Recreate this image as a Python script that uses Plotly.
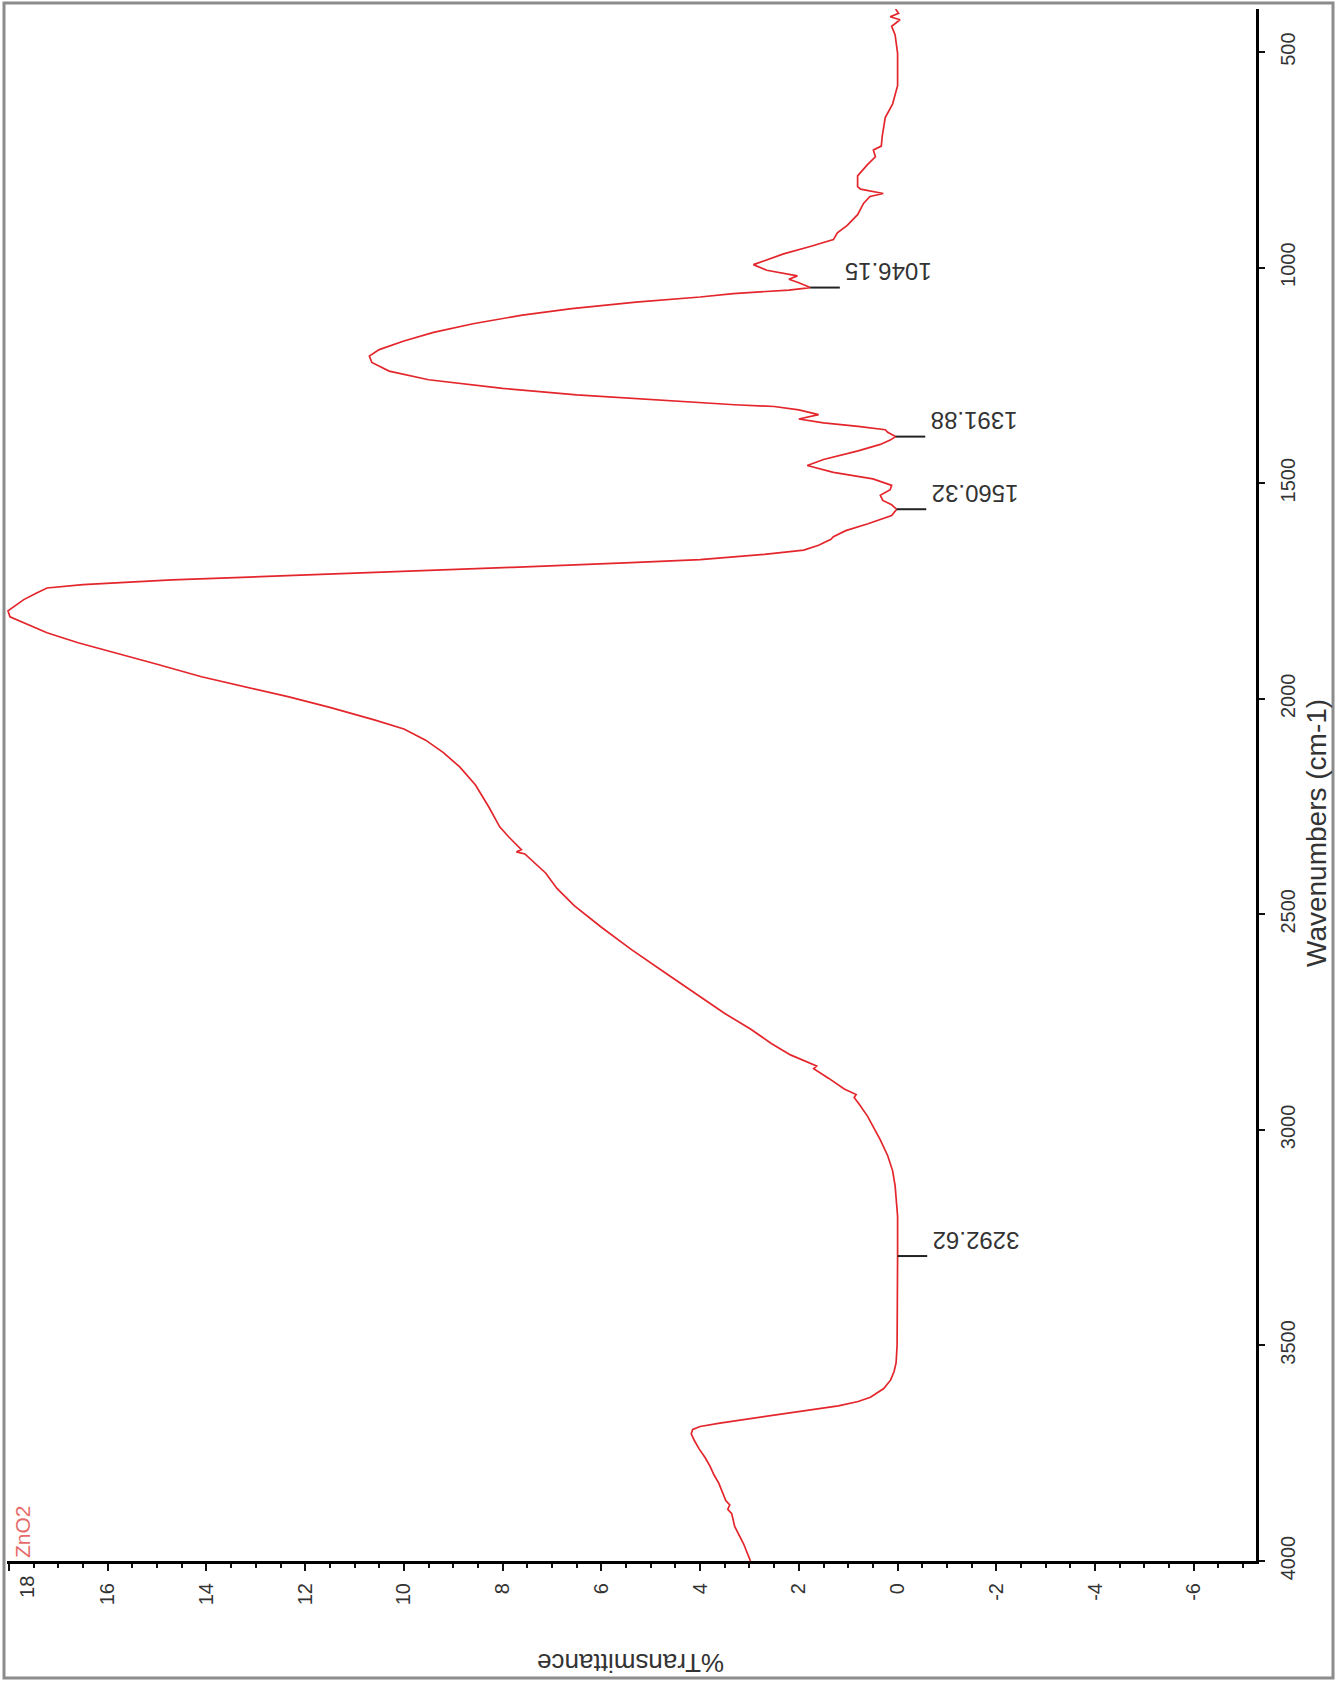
import plotly.graph_objects as go

# IR spectrum of ZnO2, drawn in the rotated instrument layout:
# %Transmittance runs horizontally (18 at left), wavenumber vertically (500 at top).
wavenumber = [
    4000, 3960, 3920, 3890, 3880, 3870, 3860, 3840, 3820, 3800, 3780, 3760, 3740,
    3720, 3705, 3695, 3688, 3680, 3670, 3660, 3650, 3640, 3630, 3620, 3600, 3580,
    3560, 3540, 3500, 3400, 3292.62, 3200, 3170, 3130, 3095, 3060, 3023, 2990,
    2968, 2940, 2925, 2918, 2905, 2880, 2858, 2852, 2840, 2826, 2800, 2766, 2730,
    2691, 2640, 2582, 2530, 2480, 2440, 2404, 2370, 2360, 2355, 2350, 2320, 2297,
    2251, 2200, 2158, 2125, 2096, 2070, 2049, 2020, 1995, 1970, 1949, 1920, 1894,
    1870, 1847, 1825, 1810, 1796, 1786, 1770, 1755, 1743, 1735, 1724, 1715, 1705,
    1695, 1684, 1677, 1665, 1655, 1644, 1630, 1624, 1610, 1594, 1575, 1560.32,
    1550, 1540, 1528, 1515, 1505, 1490, 1475, 1459, 1445, 1425, 1410, 1400,
    1391.88, 1382, 1376, 1368, 1360, 1351, 1341, 1330, 1322, 1318, 1312, 1305,
    1295, 1280, 1260, 1240, 1220, 1205, 1190, 1170, 1150, 1130, 1110, 1095, 1080,
    1068, 1060, 1052, 1046.15, 1035, 1027, 1019, 1006, 993, 980, 968, 951, 935,
    919, 902, 877, 851, 835, 828, 818, 812, 787, 761, 743, 727, 718, 694, 652,
    620, 578, 503, 460, 440, 425, 418, 410, 400,
]
transmittance = [
    2.98, 3.12, 3.30, 3.36, 3.44, 3.40, 3.48, 3.55, 3.62, 3.72, 3.80, 3.90, 4.02,
    4.12, 4.18, 4.15, 4.00, 3.60, 3.00, 2.30, 1.70, 1.20, 0.80, 0.55, 0.28, 0.14,
    0.07, 0.03, 0.01, 0.00, 0.00, 0.00, 0.02, 0.05, 0.10, 0.20, 0.35, 0.50,
    0.61, 0.78, 0.88, 0.84, 1.08, 1.40, 1.70, 1.64, 1.90, 2.17, 2.55, 2.98, 3.50,
    3.99, 4.65, 5.39, 6.00, 6.55, 6.90, 7.13, 7.45, 7.55, 7.72, 7.62, 7.88, 8.06,
    8.28, 8.55, 8.87, 9.20, 9.56, 10.00, 10.60, 11.50, 12.35, 13.30, 14.10, 15.00, 15.83,
    16.60, 17.23, 17.70, 17.98, 18.02, 17.90, 17.70, 17.45, 17.23, 16.50, 14.70, 12.50, 10.00,
    7.80, 5.40, 4.00, 2.70, 1.90, 1.60, 1.35, 1.30, 1.05, 0.60, 0.12, 0.02,
    0.12, 0.30, 0.35, 0.15, 0.12, 0.50, 1.30, 1.83, 1.50, 0.80, 0.35, 0.15,
    0.04, 0.20, 0.25, 0.80, 1.50, 2.00, 1.60, 2.00, 2.50, 3.30, 4.20, 5.00,
    6.50, 8.00, 9.50, 10.30, 10.65, 10.70, 10.50, 10.00, 9.40, 8.60, 7.60, 6.60, 5.30,
    4.00, 3.33, 2.20, 1.77, 2.00, 2.20, 2.03, 2.65, 2.92, 2.60, 2.31, 1.77, 1.30,
    1.22, 1.02, 0.81, 0.69, 0.56, 0.29, 0.75, 0.81, 0.81, 0.61, 0.45, 0.49, 0.33, 0.31, 0.25,
    0.10, 0.00, 0.00, 0.05, 0.12, -0.05, 0.15, -0.02, 0.04,
]

# Labelled peaks
peak_wavenumbers = [3292.62, 1560.32, 1391.88, 1046.15]
peak_transmittance = [0.00, 0.02, 0.04, 1.77]
peak_labels = ["3292.62", "1560.32", "1391.88", "1046.15"]

sample_name = "ZnO2"
t_ticks = list(range(-6, 19, 2))
wn_ticks = list(range(500, 4001, 500))
t_max = t_ticks[-1]

W, H = 1336, 1681
L, R, T, B = 7, 80, 9, 120
pw, ph = W - L - R, H - T - B

def px(xpix):
    return (xpix - L) / pw

def py(ypix):
    return (H - B - ypix) / ph

LABEL_FONT = dict(family="Liberation Sans, Arial", size=20, color="#333333")

fig = go.Figure()

fig.add_trace(go.Scatter(
    x=transmittance, y=wavenumber, mode="lines",
    line=dict(color="#e3262c", width=1.7), hoverinfo="skip", showlegend=False,
))

# peak marker ticks pointing toward lower transmittance
tick_len = 0.6
mx, my = [], []
for w, t in zip(peak_wavenumbers, peak_transmittance):
    mx += [t, t - tick_len, None]
    my += [w, w, None]
fig.add_trace(go.Scatter(
    x=mx, y=my, mode="lines", line=dict(color="#222222", width=2),
    hoverinfo="skip", showlegend=False,
))

for w, t, lab in zip(peak_wavenumbers, peak_transmittance, peak_labels):
    fig.add_annotation(
        x=t - tick_len, y=w, xref="x", yref="y", text=lab, showarrow=False,
        textangle=180, xanchor="left", yanchor="bottom", xshift=3, yshift=0,
        font=dict(family="Liberation Sans, Arial", size=24, color="#333333"),
    )

# the edge tick label sits just inside the frame
fig.add_annotation(
    x=t_max, y=py(1587), xref="x", yref="paper", text=str(t_max),
    showarrow=False, textangle=-90, xanchor="center", yanchor="middle",
    xshift=18, font=LABEL_FONT,
)

fig.add_annotation(
    x=px(631), y=py(1663), xref="paper", yref="paper", text="%Transmittance",
    showarrow=False, textangle=180, xanchor="center", yanchor="middle",
    font=dict(family="Liberation Sans, Arial", size=26, color="#333333"),
)
fig.add_annotation(
    x=px(1316), y=py(833), xref="paper", yref="paper", text="Wavenumbers (cm-1)",
    showarrow=False, textangle=-90, xanchor="center", yanchor="middle",
    font=dict(family="Liberation Sans, Arial", size=28, color="#333333"),
)
fig.add_annotation(
    x=px(22), y=py(1532), xref="paper", yref="paper", text=sample_name,
    showarrow=False, textangle=-90, xanchor="center", yanchor="middle",
    font=dict(family="Liberation Sans, Arial", size=21, color="#e56b6b"),
)

# outer picture frame
fig.add_shape(
    type="rect", xref="paper", yref="paper",
    x0=px(4), x1=px(1333), y0=py(1678), y1=py(3),
    line=dict(color="#8c8c8c", width=3), layer="above",
)

fig.update_layout(
    width=W, height=H, autosize=False,
    margin=dict(l=L, r=R, t=T, b=B, autoexpand=False),
    paper_bgcolor="white", plot_bgcolor="white",
    showlegend=False,
    font=dict(family="Liberation Sans, Arial", color="#333333"),
    xaxis=dict(
        range=[18.04, -7.26], tickvals=t_ticks,
        ticktext=["" if v == t_max else str(v) for v in t_ticks],
        tickangle=-90, ticks="outside", ticklen=7, tickwidth=2, tickcolor="#111111",
        minor=dict(dtick=0.5, tick0=0, ticks="outside", ticklen=4, tickwidth=2,
                   tickcolor="#111111", showgrid=False),
        showline=True, linecolor="#000000", linewidth=3, mirror=False,
        showgrid=False, zeroline=False, tickfont=LABEL_FONT,
        ticklabelstandoff=4, automargin=False,
    ),
    yaxis=dict(
        range=[4000, 400], side="right", tickvals=wn_ticks,
        ticktext=[str(v) for v in wn_ticks], tickangle=-90,
        ticks="outside", ticklen=6, tickwidth=2, tickcolor="#111111",
        showline=True, linecolor="#000000", linewidth=3, mirror=False,
        showgrid=False, zeroline=False, tickfont=LABEL_FONT,
        ticklabelstandoff=6, ticklabeloverflow="allow", automargin=False,
    ),
)

fig.write_html("out.html")
